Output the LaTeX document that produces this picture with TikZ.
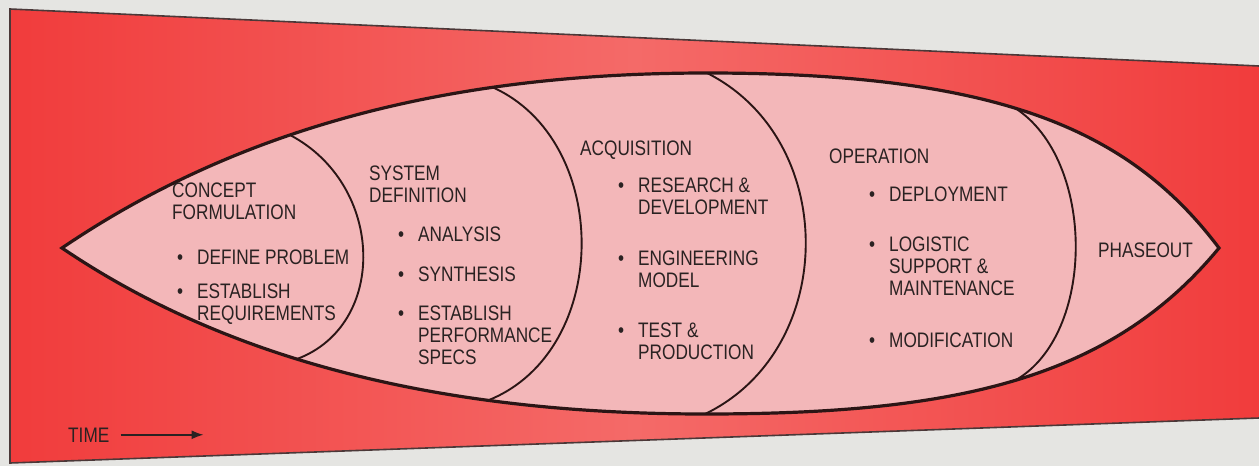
\documentclass[tikz,border=0pt]{standalone}
\usepackage{fontspec}
\setmainfont{Liberation Sans}[FakeStretch=0.82]
\usepackage{xcolor}
\usepackage{tikz}
\usetikzlibrary{arrows.meta}
\definecolor{paper}{HTML}{E5E5E2}
\definecolor{redbg}{HTML}{F13C3C}
\definecolor{redmid}{HTML}{F46A68}
\definecolor{lenspink}{HTML}{F3B7B9}
\definecolor{inkline}{HTML}{2B1515}
\definecolor{inktext}{HTML}{2A2222}
\newcommand{\stack}[1]{\begin{tabular}[t]{@{}l@{}}#1\end{tabular}}
\newcommand{\dotitem}[1]{\makebox[20pt][l]{\textbullet}\stack{#1}}
\newcommand{\lensoutline}{(707,73) .. controls (1000,73) and (1130,130) .. (1219,248)
  .. controls (1110,380) and (955,414) .. (705,414)
  .. controls (455,414) and (236,366) .. (62,248)
  .. controls (252,119) and (470,73) .. (707,73)}

\begin{document}
\begin{tikzpicture}[
  x=1pt,y=-1pt,
  font=\fontsize{21}{22}\selectfont,
  txt/.style={anchor=base west,inner sep=0pt,text=inktext},
  rim/.style={draw=inkline,line width=3.2pt,line join=miter},
  divider/.style={draw=inkline,line width=1.9pt},
  cardedge/.style={draw=inkline!85,line width=1.6pt},
  timearrow/.style={-{Latex[length=12pt,width=9pt]},draw=inktext,line width=1.6pt}
]
\useasboundingbox (0,0) rectangle (1259,466);
\fill[paper] (0,0) rectangle (1259,466);

% red card in perspective
\shade[left color=redbg,right color=redbg,middle color=redmid]
  (1259,66) -- (10,9) -- (10,463) -- (1259,418) -- cycle;
\draw[cardedge] (1259,66) -- (10,9) -- (10,463) -- (1259,418);

% life-cycle lens and phase boundaries
\fill[lenspink] \lensoutline;
\begin{scope}
  \clip \lensoutline;
  \draw[divider] (290,135) .. controls (385,185) and (388,325) .. (297,359);
  \draw[divider] (492,87) .. controls (612,140) and (612,350) .. (489,400);
  \draw[divider] (707,73) .. controls (840,140) and (838,350) .. (705,414);
  \draw[divider] (1015,108) .. controls (1096,160) and (1096,335) .. (1015,380.5);
\end{scope}
\draw[rim] \lensoutline;

% phase titles
\node[txt] (concept) at (172,197) {\stack{CONCEPT\\FORMULATION}};
\node[txt] (sysdef)  at (369,180) {\stack{SYSTEM\\DEFINITION}};
\node[txt] (acq)     at (580,155) {ACQUISITION};
\node[txt] (oper)    at (829,163) {OPERATION};
\node[txt] (phase)   at (1098,257) {PHASEOUT};

% activities
\node[txt] (cf1) at (177,264) {\dotitem{DEFINE PROBLEM}};
\node[txt] (cf2) at (177,298) {\dotitem{ESTABLISH\\REQUIREMENTS}};

\node[txt] (sd1) at (398,241) {\dotitem{ANALYSIS}};
\node[txt] (sd2) at (398,281) {\dotitem{SYNTHESIS}};
\node[txt] (sd3) at (398,320) {\dotitem{ESTABLISH\\PERFORMANCE\\SPECS}};

\node[txt] (aq1) at (618,192) {\dotitem{RESEARCH \&\\DEVELOPMENT}};
\node[txt] (aq2) at (618,265) {\dotitem{ENGINEERING\\MODEL}};
\node[txt] (aq3) at (618,337) {\dotitem{TEST \&\\PRODUCTION}};

\node[txt] (op1) at (869,201) {\dotitem{DEPLOYMENT}};
\node[txt] (op2) at (869,251) {\dotitem{LOGISTIC\\SUPPORT \&\\MAINTENANCE}};
\node[txt] (op3) at (869,347) {\dotitem{MODIFICATION}};

% time axis
\node[txt] (time) at (68,442) {TIME};
\coordinate (timeend) at ([xshift=94pt]time.east);
\draw[timearrow] ([xshift=11pt]time.east) -- (timeend);
\end{tikzpicture}
\end{document}
